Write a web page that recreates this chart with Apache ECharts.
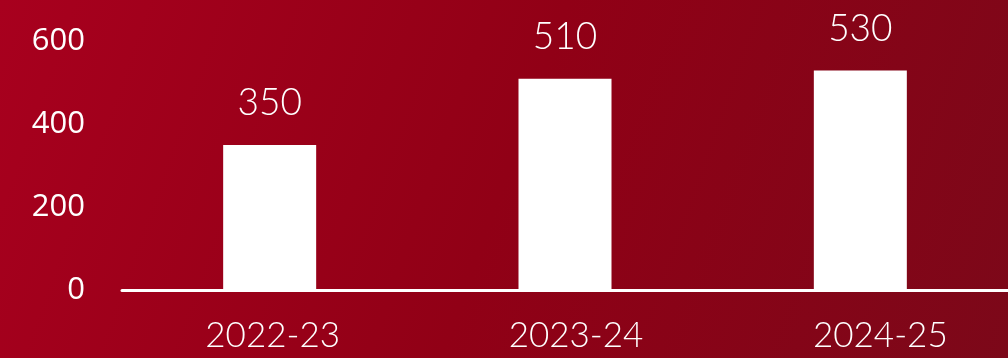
<!DOCTYPE html>
<html>
<head>
<meta charset="utf-8">
<script src="https://cdn.jsdelivr.net/npm/echarts@6/dist/echarts.min.js"></script>
<style>
html,body{margin:0;padding:0;width:1008px;height:358px;overflow:hidden;}
#c{width:1008px;height:358px;}
</style>
</head>
<body>
<div id="c"></div>
<script>
const categories = ['2022-23', '2023-24', '2024-25'];
const values = [350, 510, 530];
const yTicks = [0, 200, 400, 600];

// small horizontal nudges of the category labels (style only)
const labelNudge = [3, 11, 20];

const chart = echarts.init(document.getElementById('c'), null, {renderer: 'canvas'});
chart.setOption({
  animation: false,
  backgroundColor: {
    type: 'linear', x: 0, y: 0, x2: 1, y2: 1,
    colorStops: [
      {offset: 0, color: '#a8001e'},
      {offset: 0.5, color: '#910016'},
      {offset: 1, color: '#7c0819'}
    ]
  },
  grid: {left: 122, right: -2, top: 290 - 600 * (145 / 350), bottom: 68, containLabel: false},
  xAxis: {
    type: 'category',
    data: categories.map((c, i) => ({value: c, textStyle: {padding: [0, 0, 0, 2 * labelNudge[i]]}})),
    axisLine: {show: true, lineStyle: {color: '#ffffff', width: 3}},
    axisTick: {show: false},
    axisLabel: {color: '#ffffff', fontFamily: 'Lato', fontWeight: 300, fontSize: 35, margin: 28}
  },
  yAxis: {
    type: 'value',
    min: yTicks[0],
    max: yTicks[yTicks.length - 1],
    interval: 200,
    splitLine: {show: false},
    axisLine: {show: false},
    axisTick: {show: false},
    axisLabel: {color: '#ffffff', fontFamily: 'Open Sans', fontSize: 31, margin: 37}
  },
  series: [{
    type: 'bar',
    data: values,
    barWidth: 93,
    itemStyle: {color: '#ffffff'},
    label: {
      show: true,
      position: 'top',
      distance: 23,
      color: '#ffffff',
      fontFamily: 'Lato',
      fontWeight: 300,
      fontSize: 37
    }
  }]
});
</script>
</body>
</html>
